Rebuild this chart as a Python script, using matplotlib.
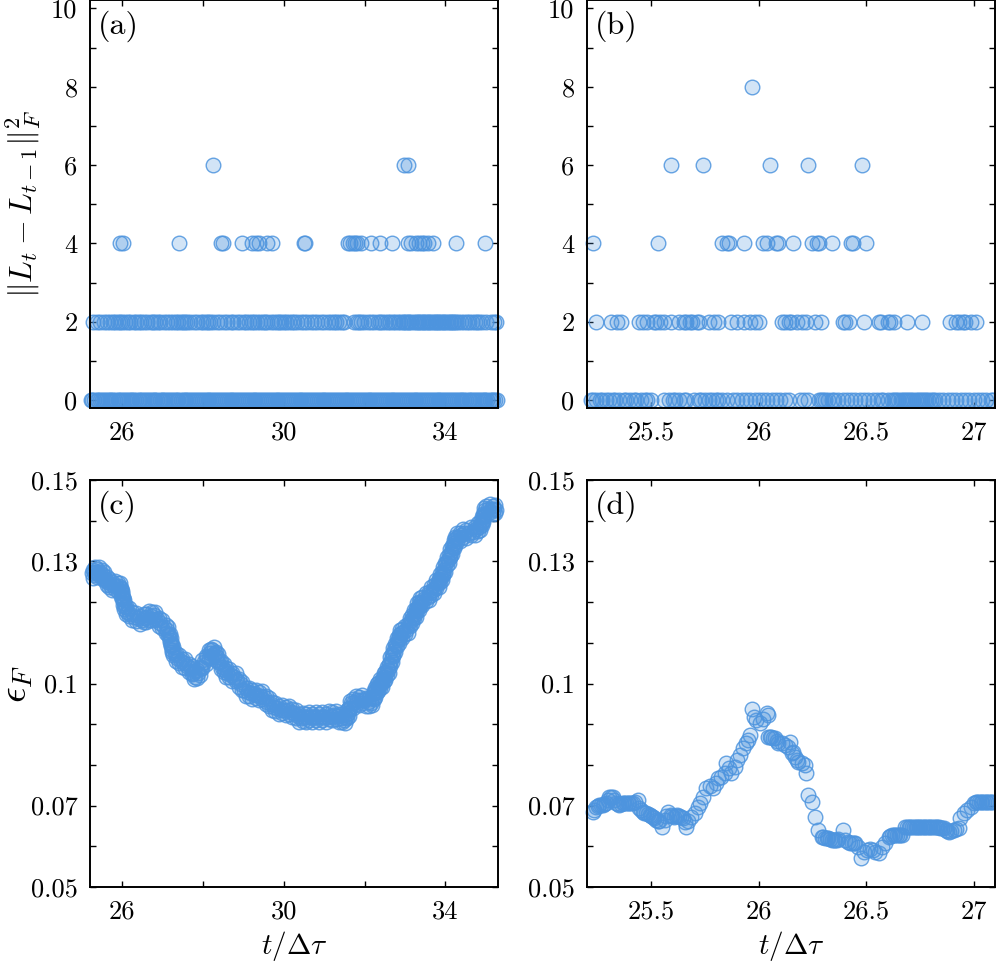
import matplotlib
matplotlib.use("Agg")
import matplotlib.pyplot as plt

plt.rcParams["font.family"] = "serif"
plt.rcParams["font.serif"] = ["cmr10"]
plt.rcParams["mathtext.fontset"] = "cm"
plt.rcParams["axes.unicode_minus"] = False

# ---- panel (a): jumps over the long window ----
a_x_level0 = [
    25.22, 25.26, 25.31, 25.36, 25.40, 25.45, 25.50, 25.54, 25.59, 25.64, 25.69, 25.73, 25.78, 25.83, 25.88, 25.92, 25.97,
    26.02, 26.06, 26.11, 26.16, 26.21, 26.25, 26.30, 26.35, 26.40, 26.44, 26.49, 26.54, 26.59, 26.63, 26.68, 26.73, 26.78, 26.82, 26.87, 26.92, 26.97,
    27.01, 27.06, 27.11, 27.16, 27.20, 27.25, 27.30, 27.35, 27.39, 27.44, 27.49, 27.54, 27.58, 27.63, 27.68, 27.73, 27.77, 27.82, 27.87, 27.92, 27.96,
    28.01, 28.06, 28.11, 28.15, 28.20, 28.25, 28.30, 28.34, 28.39, 28.44, 28.49, 28.53, 28.58, 28.63, 28.68, 28.72, 28.77, 28.82, 28.87, 28.91, 28.96,
    29.01, 29.06, 29.10, 29.15, 29.20, 29.25, 29.29, 29.34, 29.39, 29.44, 29.48, 29.53, 29.58, 29.63, 29.67, 29.72, 29.77, 29.82, 29.86, 29.91, 29.96,
    30.01, 30.05, 30.10, 30.15, 30.20, 30.24, 30.29, 30.34, 30.39, 30.43, 30.48, 30.53, 30.58, 30.62, 30.67, 30.72, 30.77, 30.81, 30.86, 30.91, 30.96,
    31.00, 31.05, 31.10, 31.15, 31.19, 31.24, 31.29, 31.34, 31.38, 31.43, 31.48, 31.53, 31.57, 31.62, 31.67, 31.72, 31.76, 31.81, 31.86, 31.91, 31.95,
    32.00, 32.05, 32.10, 32.14, 32.19, 32.24, 32.29, 32.33, 32.38, 32.43, 32.48, 32.52, 32.57, 32.62, 32.67, 32.71, 32.76, 32.81, 32.86, 32.90, 32.95,
    33.00, 33.05, 33.09, 33.14, 33.19, 33.24, 33.28, 33.33, 33.38, 33.43, 33.47, 33.52, 33.57, 33.62, 33.66, 33.71, 33.76, 33.81, 33.85, 33.90, 33.95,
    34.00, 34.04, 34.09, 34.14, 34.19, 34.23, 34.28, 34.33, 34.38, 34.42, 34.47, 34.52, 34.57, 34.61, 34.66, 34.71, 34.76, 34.80, 34.85, 34.90, 34.95,
    34.99, 35.04, 35.09, 35.14, 35.18, 35.23, 35.27,
]
a_x_level2 = [
    25.28, 25.37, 25.45, 25.54, 25.62, 25.70, 25.76, 25.83, 25.90, 25.95, 26.00, 26.07, 26.13, 26.20, 26.28, 26.34,
    26.41, 26.47, 26.53, 26.60, 26.70, 26.76, 26.82, 26.88, 26.94, 27.02, 27.11, 27.19, 27.25, 27.32, 27.38, 27.44,
    27.50, 27.55, 27.61, 27.68, 27.77, 27.85, 27.94, 28.00, 28.06, 28.12, 28.18, 28.25, 28.35, 28.42, 28.51, 28.60,
    28.68, 28.75, 28.85, 28.92, 29.01, 29.07, 29.13, 29.20, 29.26, 29.34, 29.40, 29.47, 29.53, 29.59, 29.67, 29.76,
    29.82, 29.88, 29.94, 30.00, 30.06, 30.13, 30.19, 30.25, 30.33, 30.42, 30.50, 30.58, 30.66, 30.75, 30.83, 30.91,
    31.00, 31.08, 31.16, 31.24, 31.30, 31.37, 31.43, 31.49, 31.74, 31.80, 31.86, 31.92, 31.99, 32.07, 32.15, 32.23,
    32.32, 32.38, 32.44, 32.50, 32.57, 32.63, 32.69, 32.76, 32.82, 32.88, 32.94, 32.98, 33.02, 33.06, 33.10, 33.15,
    33.23, 33.27, 33.31, 33.35, 33.39, 33.44, 33.48, 33.52, 33.56, 33.60, 33.64, 33.68, 33.73, 33.77, 33.81, 33.85,
    33.89, 33.93, 33.97, 34.02, 34.06, 34.10, 34.14, 34.18, 34.22, 34.26, 34.30, 34.38, 34.47, 34.53, 34.59, 34.65,
    34.72, 34.78, 34.84, 34.90, 35.00, 35.13, 35.20, 35.25,
]
a_x_level4 = [
    25.95, 26.02, 27.41, 28.43, 28.50, 28.97, 29.22, 29.30, 29.38, 29.59, 29.71, 30.50, 30.51, 31.58, 31.64, 31.70,
    31.76, 31.82, 31.91, 32.15, 32.38, 32.67, 33.06, 33.15, 33.27, 33.35, 33.41, 33.48, 33.56, 33.68, 34.26, 34.97,
]
a_x_level6 = [28.24, 32.98, 33.06]

# ---- panel (b): jumps over the short window ----
b_x_level0 = [
    25.22, 25.23, 25.24, 25.26, 25.27, 25.29, 25.30, 25.32, 25.33, 25.35, 25.37, 25.38, 25.40, 25.42, 25.43, 25.45,
    25.47, 25.48, 25.50, 25.56, 25.58, 25.60, 25.61, 25.63, 25.65, 25.66, 25.70, 25.72, 25.73, 25.75, 25.77, 25.78,
    25.80, 25.81, 25.83, 25.85, 25.88, 25.90, 25.92, 25.94, 25.96, 25.98, 26.00, 26.02, 26.04, 26.06, 26.08, 26.10,
    26.12, 26.14, 26.19, 26.21, 26.23, 26.28, 26.29, 26.30, 26.31, 26.32, 26.34, 26.35, 26.37, 26.39, 26.41, 26.43,
    26.45, 26.47, 26.49, 26.51, 26.53, 26.55, 26.57, 26.58, 26.60, 26.62, 26.63, 26.64, 26.65, 26.66, 26.67, 26.68,
    26.69, 26.70, 26.71, 26.72, 26.73, 26.74, 26.75, 26.76, 26.77, 26.78, 26.79, 26.80, 26.81, 26.82, 26.84, 26.86,
    26.88, 26.90, 26.92, 26.94, 26.96, 26.98, 27.00, 27.02, 27.04, 27.06, 27.08, 27.09,
]
b_x_level2 = [
    25.24, 25.31, 25.34, 25.36, 25.44, 25.46, 25.48, 25.51, 25.52, 25.54, 25.56, 25.59, 25.63, 25.65, 25.66, 25.68,
    25.69, 25.71, 25.72, 25.77, 25.79, 25.81, 25.87, 25.90, 25.93, 25.96, 25.98, 26.00, 26.11, 26.12, 26.14, 26.15,
    26.18, 26.20, 26.22, 26.26, 26.29, 26.39, 26.40, 26.42, 26.49, 26.56, 26.57, 26.60, 26.61, 26.63, 26.69, 26.76,
    26.89, 26.92, 26.93, 26.95, 26.96, 26.99, 27.01,
]
b_x_level4 = [
    25.23, 25.53, 25.83, 25.85, 25.86, 25.93, 26.02, 26.04, 26.08, 26.09, 26.16, 26.25, 26.27, 26.28, 26.34, 26.43,
    26.44, 26.50,
]
b_x_level6 = [25.59, 25.74, 26.05, 26.23, 26.48]
b_x_level8 = [25.97]

# ---- panel (c): error over the long window (centre of the band) ----
c_t = [
    25.25, 25.29, 25.35, 25.40, 25.45, 25.52, 25.58, 25.64, 25.70, 25.78, 25.85, 25.91, 25.96, 25.99, 26.01, 26.03,
    26.07, 26.12, 26.20, 26.28, 26.38, 26.49, 26.56, 26.61, 26.70, 26.78, 26.86, 26.94, 27.03, 27.11, 27.15, 27.19,
    27.21, 27.23, 27.30, 27.36, 27.44, 27.52, 27.60, 27.69, 27.75, 27.81, 27.88, 27.94, 28.02, 28.10, 28.17, 28.23,
    28.29, 28.35, 28.41, 28.47, 28.54, 28.60, 28.68, 28.76, 28.85, 28.93, 29.01, 29.10, 29.18, 29.26, 29.34, 29.42,
    29.51, 29.59, 29.67, 29.75, 29.83, 29.92, 30.00, 30.09, 30.17, 30.25, 30.34, 30.42, 30.50, 30.58, 30.66, 30.75,
    30.83, 30.91, 31.00, 31.08, 31.16, 31.24, 31.33, 31.41, 31.49, 31.54, 31.58, 31.62, 31.66, 31.74, 31.82, 31.90,
    31.99, 32.07, 32.15, 32.20, 32.24, 32.28, 32.32, 32.36, 32.40, 32.45, 32.49, 32.53, 32.57, 32.61, 32.65, 32.69,
    32.73, 32.78, 32.82, 32.86, 32.90, 32.96, 33.03, 33.09, 33.15, 33.20, 33.24, 33.28, 33.32, 33.36, 33.39, 33.47,
    33.56, 33.62, 33.68, 33.74, 33.81, 33.85, 33.89, 33.93, 33.97, 34.02, 34.06, 34.10, 34.14, 34.18, 34.22, 34.26,
    34.31, 34.39, 34.47, 34.57, 34.68, 34.76, 34.84, 34.88, 34.92, 34.95, 34.97, 35.05, 35.13, 35.20, 35.26,
]
c_eps = [
    0.1271, 0.1273, 0.1275, 0.1272, 0.1275, 0.1266, 0.1258, 0.1250, 0.1242, 0.1241, 0.1240, 0.1240, 0.1231, 0.1222, 0.1210, 0.1197,
    0.1187, 0.1176, 0.1170, 0.1164, 0.1160, 0.1156, 0.1160, 0.1164, 0.1166, 0.1168, 0.1158, 0.1148, 0.1140, 0.1131, 0.1120, 0.1107,
    0.1095, 0.1082, 0.1072, 0.1062, 0.1056, 0.1050, 0.1044, 0.1037, 0.1027, 0.1017, 0.1027, 0.1037, 0.1052, 0.1066, 0.1074, 0.1082,
    0.1074, 0.1066, 0.1054, 0.1041, 0.1033, 0.1025, 0.1021, 0.1017, 0.1008, 0.1000, 0.0984, 0.0980, 0.0976, 0.0974, 0.0972, 0.0970,
    0.0968, 0.0955, 0.0949, 0.0943, 0.0939, 0.0935, 0.0935, 0.0934, 0.0931, 0.0927, 0.0921, 0.0915, 0.0917, 0.0918, 0.0918, 0.0918,
    0.0918, 0.0918, 0.0918, 0.0918, 0.0921, 0.0923, 0.0919, 0.0915, 0.0910, 0.0918, 0.0927, 0.0939, 0.0951, 0.0955, 0.0959, 0.0959,
    0.0959, 0.0955, 0.0951, 0.0964, 0.0976, 0.0984, 0.0992, 0.0996, 0.1000, 0.1008, 0.1017, 0.1025, 0.1033, 0.1045, 0.1058, 0.1070,
    0.1082, 0.1095, 0.1107, 0.1115, 0.1123, 0.1127, 0.1131, 0.1143, 0.1156, 0.1164, 0.1172, 0.1180, 0.1189, 0.1195, 0.1201, 0.1207,
    0.1213, 0.1222, 0.1230, 0.1238, 0.1246, 0.1254, 0.1262, 0.1270, 0.1279, 0.1295, 0.1303, 0.1312, 0.1324, 0.1336, 0.1346, 0.1357,
    0.1360, 0.1365, 0.1369, 0.1371, 0.1373, 0.1379, 0.1385, 0.1393, 0.1402, 0.1414, 0.1426, 0.1428, 0.1430, 0.1428, 0.1426,
]
# samples in between, spread above / below the centre of the band
c_t_spread = [
    25.27, 25.32, 25.375, 25.425, 25.485, 25.55, 25.61, 25.67, 25.74, 25.815, 25.88, 25.935, 25.975, 26.00, 26.02, 26.05,
    26.095, 26.16, 26.24, 26.33, 26.435, 26.525, 26.585, 26.655, 26.74, 26.82, 26.90, 26.985, 27.07, 27.13, 27.17, 27.20,
    27.22, 27.265, 27.33, 27.40, 27.48, 27.56, 27.645, 27.72, 27.78, 27.845, 27.91, 27.98, 28.06, 28.135, 28.20, 28.26,
    28.32, 28.38, 28.44, 28.505, 28.57, 28.64, 28.72, 28.805, 28.89, 28.97, 29.055, 29.14, 29.22, 29.30, 29.38, 29.465,
    29.55, 29.63, 29.71, 29.79, 29.875, 29.96, 30.045, 30.13, 30.21, 30.295, 30.38, 30.46, 30.54, 30.62, 30.705, 30.79,
    30.87, 30.955, 31.04, 31.12, 31.20, 31.285, 31.37, 31.45, 31.515, 31.56, 31.60, 31.64, 31.70, 31.78, 31.86, 31.945,
    32.03, 32.11, 32.175, 32.22, 32.26, 32.30, 32.34, 32.38, 32.425, 32.47, 32.51, 32.55, 32.59, 32.63, 32.67, 32.71,
    32.755, 32.80, 32.84, 32.88, 32.93, 32.995, 33.06, 33.12, 33.175, 33.22, 33.26, 33.30, 33.34, 33.375, 33.43, 33.515,
    33.59, 33.65, 33.71, 33.775, 33.83, 33.87, 33.91, 33.95, 33.995, 34.04, 34.08, 34.12, 34.16, 34.20, 34.24, 34.285,
    34.35, 34.43, 34.52, 34.625, 34.72, 34.80, 34.86, 34.90, 34.935, 34.96, 35.01, 35.09, 35.165, 35.23,
]
c_eps_spread = [
    0.1280, 0.1266, 0.1282, 0.1266, 0.1279, 0.1254, 0.1262, 0.1238, 0.1250, 0.1232, 0.1248, 0.1228, 0.1234, 0.1208, 0.1212, 0.1184,
    0.1190, 0.1165, 0.1175, 0.1154, 0.1166, 0.1150, 0.1170, 0.1157, 0.1175, 0.1155, 0.1161, 0.1136, 0.1144, 0.1118, 0.1122, 0.1093,
    0.1097, 0.1069, 0.1075, 0.1051, 0.1061, 0.1039, 0.1049, 0.1024, 0.1030, 0.1014, 0.1040, 0.1037, 0.1067, 0.1062, 0.1086, 0.1070,
    0.1078, 0.1052, 0.1056, 0.1029, 0.1037, 0.1015, 0.1027, 0.1005, 0.1012, 0.0984, 0.0990, 0.0970, 0.0983, 0.0965, 0.0979, 0.0961,
    0.0970, 0.0944, 0.0954, 0.0933, 0.0945, 0.0927, 0.0943, 0.0925, 0.0937, 0.0916, 0.0926, 0.0908, 0.0926, 0.0910, 0.0926, 0.0910,
    0.0926, 0.0910, 0.0926, 0.0912, 0.0930, 0.0913, 0.0925, 0.0905, 0.0922, 0.0915, 0.0941, 0.0937, 0.0961, 0.0949, 0.0967, 0.0951,
    0.0965, 0.0945, 0.0966, 0.0962, 0.0988, 0.0980, 0.1002, 0.0990, 0.1012, 0.1005, 0.1029, 0.1021, 0.1047, 0.1044, 0.1072, 0.1068,
    0.1097, 0.1093, 0.1119, 0.1111, 0.1133, 0.1121, 0.1145, 0.1142, 0.1168, 0.1160, 0.1184, 0.1177, 0.1200, 0.1190, 0.1212, 0.1202,
    0.1226, 0.1218, 0.1242, 0.1234, 0.1258, 0.1250, 0.1274, 0.1267, 0.1295, 0.1291, 0.1316, 0.1310, 0.1338, 0.1333, 0.1360, 0.1351,
    0.1371, 0.1359, 0.1378, 0.1364, 0.1384, 0.1374, 0.1397, 0.1390, 0.1416, 0.1412, 0.1435, 0.1421, 0.1437, 0.1419,
]
# the opposite edge of the band at the same times
c_eps_edge = [
    0.1260, 0.1286, 0.1262, 0.1286, 0.1259, 0.1274, 0.1242, 0.1258, 0.1230, 0.1252, 0.1228, 0.1248, 0.1214, 0.1228, 0.1192, 0.1204,
    0.1170, 0.1185, 0.1155, 0.1174, 0.1146, 0.1170, 0.1150, 0.1177, 0.1155, 0.1175, 0.1141, 0.1156, 0.1124, 0.1138, 0.1102, 0.1113,
    0.1077, 0.1089, 0.1055, 0.1071, 0.1041, 0.1059, 0.1029, 0.1044, 0.1010, 0.1034, 0.1020, 0.1057, 0.1047, 0.1082, 0.1066, 0.1090,
    0.1058, 0.1072, 0.1036, 0.1049, 0.1017, 0.1035, 0.1007, 0.1025, 0.0992, 0.1004, 0.0970, 0.0990, 0.0963, 0.0985, 0.0959, 0.0981,
    0.0950, 0.0964, 0.0934, 0.0953, 0.0925, 0.0947, 0.0923, 0.0945, 0.0917, 0.0936, 0.0906, 0.0928, 0.0906, 0.0930, 0.0906, 0.0930,
    0.0906, 0.0930, 0.0906, 0.0932, 0.0910, 0.0933, 0.0905, 0.0925, 0.0902, 0.0935, 0.0921, 0.0957, 0.0941, 0.0969, 0.0947, 0.0971,
    0.0945, 0.0965, 0.0946, 0.0982, 0.0968, 0.1000, 0.0982, 0.1010, 0.0992, 0.1025, 0.1009, 0.1041, 0.1027, 0.1064, 0.1052, 0.1088,
    0.1077, 0.1113, 0.1099, 0.1131, 0.1113, 0.1141, 0.1125, 0.1162, 0.1148, 0.1180, 0.1164, 0.1197, 0.1180, 0.1210, 0.1192, 0.1222,
    0.1206, 0.1238, 0.1222, 0.1254, 0.1238, 0.1270, 0.1254, 0.1287, 0.1275, 0.1311, 0.1296, 0.1330, 0.1318, 0.1353, 0.1340, 0.1371,
    0.1351, 0.1379, 0.1358, 0.1384, 0.1364, 0.1394, 0.1377, 0.1410, 0.1396, 0.1432, 0.1415, 0.1441, 0.1417, 0.1439,
]

# ---- panel (d): error over the short window ----
d_t = [
    25.226, 25.234, 25.241, 25.249, 25.257, 25.265, 25.272, 25.280, 25.288, 25.296, 25.304, 25.312, 25.319, 25.327, 25.335, 25.343,
    25.350, 25.358, 25.366, 25.374, 25.382, 25.390, 25.397, 25.405, 25.413, 25.425, 25.436, 25.444, 25.452, 25.459, 25.467, 25.475,
    25.483, 25.491, 25.499, 25.506, 25.514, 25.522, 25.530, 25.537, 25.548, 25.561, 25.569, 25.576, 25.589, 25.597, 25.604, 25.612,
    25.620, 25.628, 25.636, 25.646, 25.655, 25.662, 25.670, 25.685, 25.701, 25.717, 25.724, 25.740, 25.755, 25.771, 25.787, 25.802,
    25.810, 25.826, 25.841, 25.849, 25.860, 25.872, 25.888, 25.900, 25.911, 25.927, 25.942, 25.950, 25.958, 25.966, 25.978, 25.989,
    26.005, 26.020, 26.036, 26.044, 26.041, 26.052, 26.059, 26.067, 26.075, 26.083, 26.090, 26.106, 26.121, 26.137, 26.145, 26.153,
    26.160, 26.168, 26.176, 26.184, 26.199, 26.215, 26.220, 26.231, 26.246, 26.262, 26.277, 26.293, 26.300, 26.308, 26.316, 26.324,
    26.332, 26.340, 26.348, 26.355, 26.363, 26.371, 26.394, 26.402, 26.417, 26.425, 26.433, 26.441, 26.449, 26.464, 26.475, 26.488,
    26.503, 26.519, 26.530, 26.542, 26.558, 26.573, 26.589, 26.604, 26.612, 26.620, 26.628, 26.636, 26.644, 26.651, 26.659, 26.667,
    26.682, 26.690, 26.698, 26.706, 26.714, 26.722, 26.730, 26.737, 26.745, 26.753, 26.761, 26.768, 26.776, 26.784, 26.792, 26.799,
    26.807, 26.815, 26.823, 26.830, 26.838, 26.846, 26.853, 26.861, 26.870, 26.877, 26.885, 26.897, 26.908, 26.920, 26.931, 26.939,
    26.955, 26.970, 26.986, 27.002, 27.010, 27.017, 27.025, 27.033, 27.041, 27.049, 27.057, 27.064, 27.072, 27.080, 27.087,
]
d_eps = [
    0.0685, 0.0690, 0.0697, 0.0699, 0.0701, 0.0701, 0.0701, 0.0703, 0.0706, 0.0714, 0.0722, 0.0722, 0.0722, 0.0714, 0.0706, 0.0703,
    0.0701, 0.0703, 0.0706, 0.0706, 0.0706, 0.0706, 0.0706, 0.0706, 0.0706, 0.0710, 0.0714, 0.0693, 0.0689, 0.0685, 0.0683, 0.0681,
    0.0679, 0.0677, 0.0675, 0.0673, 0.0669, 0.0665, 0.0663, 0.0661, 0.0648, 0.0665, 0.0675, 0.0685, 0.0677, 0.0675, 0.0673, 0.0675,
    0.0677, 0.0675, 0.0673, 0.0669, 0.0660, 0.0648, 0.0661, 0.0673, 0.0681, 0.0697, 0.0706, 0.0722, 0.0743, 0.0747, 0.0743, 0.0755,
    0.0767, 0.0771, 0.0779, 0.0804, 0.0792, 0.0779, 0.0796, 0.0812, 0.0824, 0.0841, 0.0853, 0.0861, 0.0873, 0.0937, 0.0918, 0.0910,
    0.0902, 0.0914, 0.0927, 0.0923, 0.0869, 0.0868, 0.0868, 0.0866, 0.0865, 0.0859, 0.0853, 0.0853, 0.0849, 0.0845, 0.0857, 0.0828,
    0.0832, 0.0820, 0.0812, 0.0808, 0.0804, 0.0800, 0.0781, 0.0726, 0.0710, 0.0673, 0.0640, 0.0624, 0.0622, 0.0620, 0.0620, 0.0620,
    0.0617, 0.0615, 0.0615, 0.0615, 0.0616, 0.0617, 0.0640, 0.0615, 0.0611, 0.0609, 0.0607, 0.0608, 0.0609, 0.0599, 0.0570, 0.0587,
    0.0591, 0.0593, 0.0590, 0.0587, 0.0583, 0.0599, 0.0607, 0.0624, 0.0626, 0.0628, 0.0628, 0.0628, 0.0628, 0.0628, 0.0628, 0.0628,
    0.0648, 0.0648, 0.0648, 0.0648, 0.0648, 0.0648, 0.0648, 0.0648, 0.0648, 0.0648, 0.0648, 0.0648, 0.0648, 0.0648, 0.0648, 0.0648,
    0.0648, 0.0648, 0.0648, 0.0648, 0.0648, 0.0646, 0.0645, 0.0644, 0.0640, 0.0638, 0.0636, 0.0638, 0.0640, 0.0642, 0.0644, 0.0669,
    0.0681, 0.0689, 0.0697, 0.0706, 0.0708, 0.0710, 0.0710, 0.0710, 0.0710, 0.0710, 0.0710, 0.0710, 0.0710, 0.0709, 0.0708,
]

# ---- axes, ticks, labels ----
long_xlim = (25.2, 35.3)
short_xlim = (25.2, 27.1)
level_ylim = (-0.2, 10.2)
eps_ylim = (0.05, 0.15)

long_xticks = [26, 28, 30, 32, 34]
long_xticklabels = ["26", "", "30", "", "34"]
short_xticks = [25.5, 26, 26.5, 27]
short_xticklabels = ["25.5", "26", "26.5", "27"]
level_yticks = [0, 1, 2, 3, 4, 5, 6, 7, 8, 9, 10]
level_yticklabels = ["0", "", "2", "", "4", "", "6", "", "8", "", "10"]
eps_yticks = [0.05, 0.06, 0.07, 0.08, 0.09, 0.10, 0.11, 0.12, 0.13, 0.14, 0.15]
eps_yticklabels = ["0.05", "", "0.07", "", "", "0.1", "", "", "0.13", "", "0.15"]
panel_tags = ["(a)", "(b)", "(c)", "(d)"]

BLUE = (0.30, 0.58, 0.87)
FACE = BLUE + (0.25,)
EDGE = BLUE + (0.85,)


def dots(ax, x, y):
    ax.plot(x, y, ls="none", marker="o", ms=10.5, mfc=FACE, mec=EDGE, mew=1.0, clip_on=False)


def style(ax, xlim, ylim, xticks, xticklabels, yticks, yticklabels, tag):
    ax.set_xlim(*xlim)
    ax.set_ylim(*ylim)
    ax.set_xticks(xticks, xticklabels)
    ax.set_yticks(yticks, yticklabels)
    ax.tick_params(direction="in", top=True, right=True, length=4, width=1,
                   labelsize=19, pad=9, colors="black")
    for spine in ax.spines.values():
        spine.set_linewidth(1.4)
    ax.text(0.02, 0.975, tag, transform=ax.transAxes, ha="left", va="top", fontsize=23)


fig = plt.figure(figsize=(9.96, 9.68), dpi=100)
ax_a = fig.add_axes([0.0904, 0.5785, 0.4096, 0.4210])
ax_b = fig.add_axes([0.5894, 0.5785, 0.4096, 0.4210])
ax_c = fig.add_axes([0.0904, 0.0837, 0.4096, 0.4204])
ax_d = fig.add_axes([0.5894, 0.0837, 0.4096, 0.4204])

for xs, lev in [(a_x_level0, 0), (a_x_level2, 2), (a_x_level4, 4), (a_x_level6, 6)]:
    dots(ax_a, xs, [lev] * len(xs))
for xs, lev in [(b_x_level0, 0), (b_x_level2, 2), (b_x_level4, 4), (b_x_level6, 6), (b_x_level8, 8)]:
    dots(ax_b, xs, [lev] * len(xs))
dots(ax_c, c_t, c_eps)
dots(ax_c, c_t_spread, c_eps_spread)
dots(ax_c, c_t_spread, c_eps_edge)
dots(ax_d, d_t, d_eps)

style(ax_a, long_xlim, level_ylim, long_xticks, long_xticklabels, level_yticks, level_yticklabels, panel_tags[0])
style(ax_b, short_xlim, level_ylim, short_xticks, short_xticklabels, level_yticks, level_yticklabels, panel_tags[1])
style(ax_c, long_xlim, eps_ylim, long_xticks, long_xticklabels, eps_yticks, eps_yticklabels, panel_tags[2])
style(ax_d, short_xlim, eps_ylim, short_xticks, short_xticklabels, eps_yticks, eps_yticklabels, panel_tags[3])

ax_a.set_ylabel(r"$\|L_t - L_{t-1}\|_F^2$", fontsize=23)
ax_a.yaxis.set_label_coords(-0.115, 0.5)
ax_c.set_ylabel(r"$\epsilon_F$", fontsize=28)
ax_c.yaxis.set_label_coords(-0.135, 0.5)
for ax in (ax_c, ax_d):
    ax.set_xlabel(r"$t/\Delta\tau$", fontsize=21, labelpad=4)

fig.savefig("out.png", dpi=100)
plt.close(fig)
